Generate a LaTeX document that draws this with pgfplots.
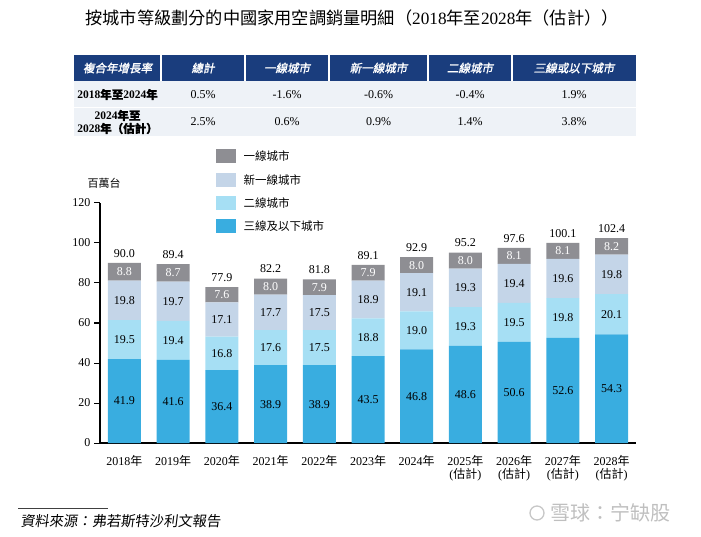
\documentclass[border=0pt]{standalone}
\usepackage{fontspec}
\usepackage{pgfplots}
\usepackage{pgfplotstable}
\pgfplotsset{compat=1.18}
\setmainfont{Liberation Serif}
\newfontfamily\cjk{Noto Sans CJK TC}
\newfontfamily\cjkb[FakeBold=1.2]{Noto Sans CJK TC}
\newfontfamily\cjkhead[FakeSlant=0.2,FakeBold=1.6]{Noto Sans CJK TC}
\newfontfamily\cjksrc[FakeSlant=0.12]{Noto Sans CJK TC}
\newcommand\C[1]{{\cjk #1}}
\newcommand\CB[1]{{\cjkb #1}}

\definecolor{tierone}{HTML}{8E8E93}
\definecolor{newtier}{HTML}{C4D5E8}
\definecolor{tiertwo}{HTML}{A6DFF4}
\definecolor{tierthree}{HTML}{39ADE0}
\definecolor{headblue}{HTML}{1A3D7D}
\definecolor{rowbg}{HTML}{EEF2F7}

% Sales by city tier, million units
\pgfplotstableread{
idx t3   t2   nt   t1  tot
0   41.9 19.5 19.8 8.8 90.0
1   41.6 19.4 19.7 8.7 89.4
2   36.4 16.8 17.1 7.6 77.9
3   38.9 17.6 17.7 8.0 82.2
4   38.9 17.5 17.5 7.9 81.8
5   43.5 18.8 18.9 7.9 89.1
6   46.8 19.0 19.1 8.0 92.9
7   48.6 19.3 19.3 8.0 95.2
8   50.6 19.5 19.4 8.1 97.6
9   52.6 19.8 19.6 8.1 100.1
10  54.3 20.1 19.8 8.2 102.4
}\sales

\pgfplotsset{
  base/.style={
    at={(100pt,93pt)}, anchor=south west, scale only axis,
    width=536pt, height=240pt,
    xmin=-0.5, xmax=10.5, ymin=0, ymax=120,
    clip=false,
  },
  seglabel/.style={
    draw=none, mark=none, nodes near coords, point meta=explicit symbolic,
    nodes near coords align=center,
    every node near coord/.append style={font=\fontsize{12}{13}\selectfont, text=black, inner sep=0pt},
  },
}

\begin{document}
\begin{tikzpicture}[x=1pt,y=1pt]
\path[use as bounding box] (0,0) rectangle (701,536);

% title
\node at (352,518) {\fontsize{17.2}{19}\selectfont\C{按城市等級劃分的中國家用空調銷量明細（}2018\C{年至}2028\C{年（估計））}};

% growth-rate table
\fill[headblue] (74,455) rectangle (636,481);
\fill[rowbg] (74,428.5) rectangle (636,455);
\fill[rowbg] (74,400) rectangle (636,427.5);
\foreach \xx in {161,245,329,428,512} \draw[white, line width=1.5pt] (\xx,455) -- (\xx,481);
\begin{scope}[every node/.style={font=\fontsize{11.5}{12}\selectfont}]
\node[white] at (117.5,468) {\cjkhead 複合年增長率};
\node[white] at (203,468) {\cjkhead 總計};
\node[white] at (287,468) {\cjkhead 一線城市};
\node[white] at (378.5,468) {\cjkhead 新一線城市};
\node[white] at (470,468) {\cjkhead 二線城市};
\node[white] at (574,468) {\cjkhead 三線或以下城市};
\node at (117.5,441.5) {\bfseries 2018\CB{年至}2024\CB{年}};
\node[align=center, font=\fontsize{11.5}{13}\selectfont] at (117.5,414) {\bfseries 2024\CB{年至}\\\bfseries 2028\CB{年（估計）}};
\end{scope}
\begin{scope}[every node/.style={font=\fontsize{12}{13}\selectfont}]
\node at (203,441.5) {0.5\%};
\node at (287,441.5) {-1.6\%};
\node at (378.5,441.5) {-0.6\%};
\node at (470,441.5) {-0.4\%};
\node at (574,441.5) {1.9\%};
\node at (203,414) {2.5\%};
\node at (287,414) {0.6\%};
\node at (378.5,414) {0.9\%};
\node at (470,414) {1.4\%};
\node at (574,414) {3.8\%};
\end{scope}

% legend
\foreach \yy/\col/\lab in {380/tierone/一線城市, 356/newtier/新一線城市, 333/tiertwo/二線城市, 310/tierthree/三線及以下城市} {
  \fill[\col] (216,\yy-7) rectangle (236,\yy+7);
  \node[anchor=west, font=\fontsize{11.5}{12}\selectfont] at (240,\yy) {\cjk \lab};
}

% unit label
\node at (104,353) {\fontsize{11}{12}\selectfont\C{百萬台}};

% stacked bars
\begin{axis}[base,
  ybar stacked, bar width=33pt,
  axis x line*=bottom, axis y line*=left,
  axis line style={-, line width=1.2pt, black},
  ytick={0,20,...,120}, tick align=outside, major tick length=6pt,
  ytick style={line width=1pt, black},
  xtick={0,...,10}, xtick style={draw=none},
  xticklabels={
    {2018\C{年}}, {2019\C{年}}, {2020\C{年}}, {2021\C{年}}, {2022\C{年}},
    {2023\C{年}}, {2024\C{年}},
    {2025\C{年}\\(\C{估計})}, {2026\C{年}\\(\C{估計})},
    {2027\C{年}\\(\C{估計})}, {2028\C{年}\\(\C{估計})}},
  x tick label style={align=center, yshift=-3pt, font=\fontsize{12}{12.5}\selectfont},
  y tick label style={font=\fontsize{12}{13}\selectfont},
  /pgf/number format/assume math mode=true,
]
\addplot[fill=tierthree, draw=none] table[x=idx, y=t3] {\sales};
\addplot[fill=tiertwo, draw=none] table[x=idx, y=t2] {\sales};
\addplot[fill=newtier, draw=none] table[x=idx, y=nt] {\sales};
\addplot[fill=tierone, draw=none] table[x=idx, y=t1] {\sales};
\end{axis}

% values inside and above the bars
\begin{axis}[base, hide axis]
\addplot[seglabel] table[x=idx, y expr=\thisrow{t3}/2, meta=t3] {\sales};
\addplot[seglabel] table[x=idx, y expr=\thisrow{t3}+\thisrow{t2}/2, meta=t2] {\sales};
\addplot[seglabel] table[x=idx, y expr=\thisrow{t3}+\thisrow{t2}+\thisrow{nt}/2, meta=nt] {\sales};
\addplot[seglabel, every node near coord/.append style={text=white}] table[x=idx, y expr=\thisrow{t3}+\thisrow{t2}+\thisrow{nt}+\thisrow{t1}/2, meta=t1] {\sales};
\addplot[draw=none, mark=none, nodes near coords, point meta=explicit symbolic,
  every node near coord/.append style={font=\fontsize{12}{13}\selectfont, anchor=south, yshift=2pt}]
  table[x=idx, y=tot, meta=tot] {\sales};
\end{axis}

% source note
\draw[black!75, line width=1pt] (18,28) -- (108,28);
\node[anchor=west] at (17,15) {\fontsize{14.3}{15}\selectfont\cjksrc 資料來源：弗若斯特沙利文報告};

% watermark
\draw[black!22, line width=1.3pt] (537,23) circle (7);
\node[anchor=west, text=black!25, inner sep=0pt] at (550,23) {\fontsize{20}{21}\selectfont\cjk 雪球：宁缺股};
\end{tikzpicture}
\end{document}
